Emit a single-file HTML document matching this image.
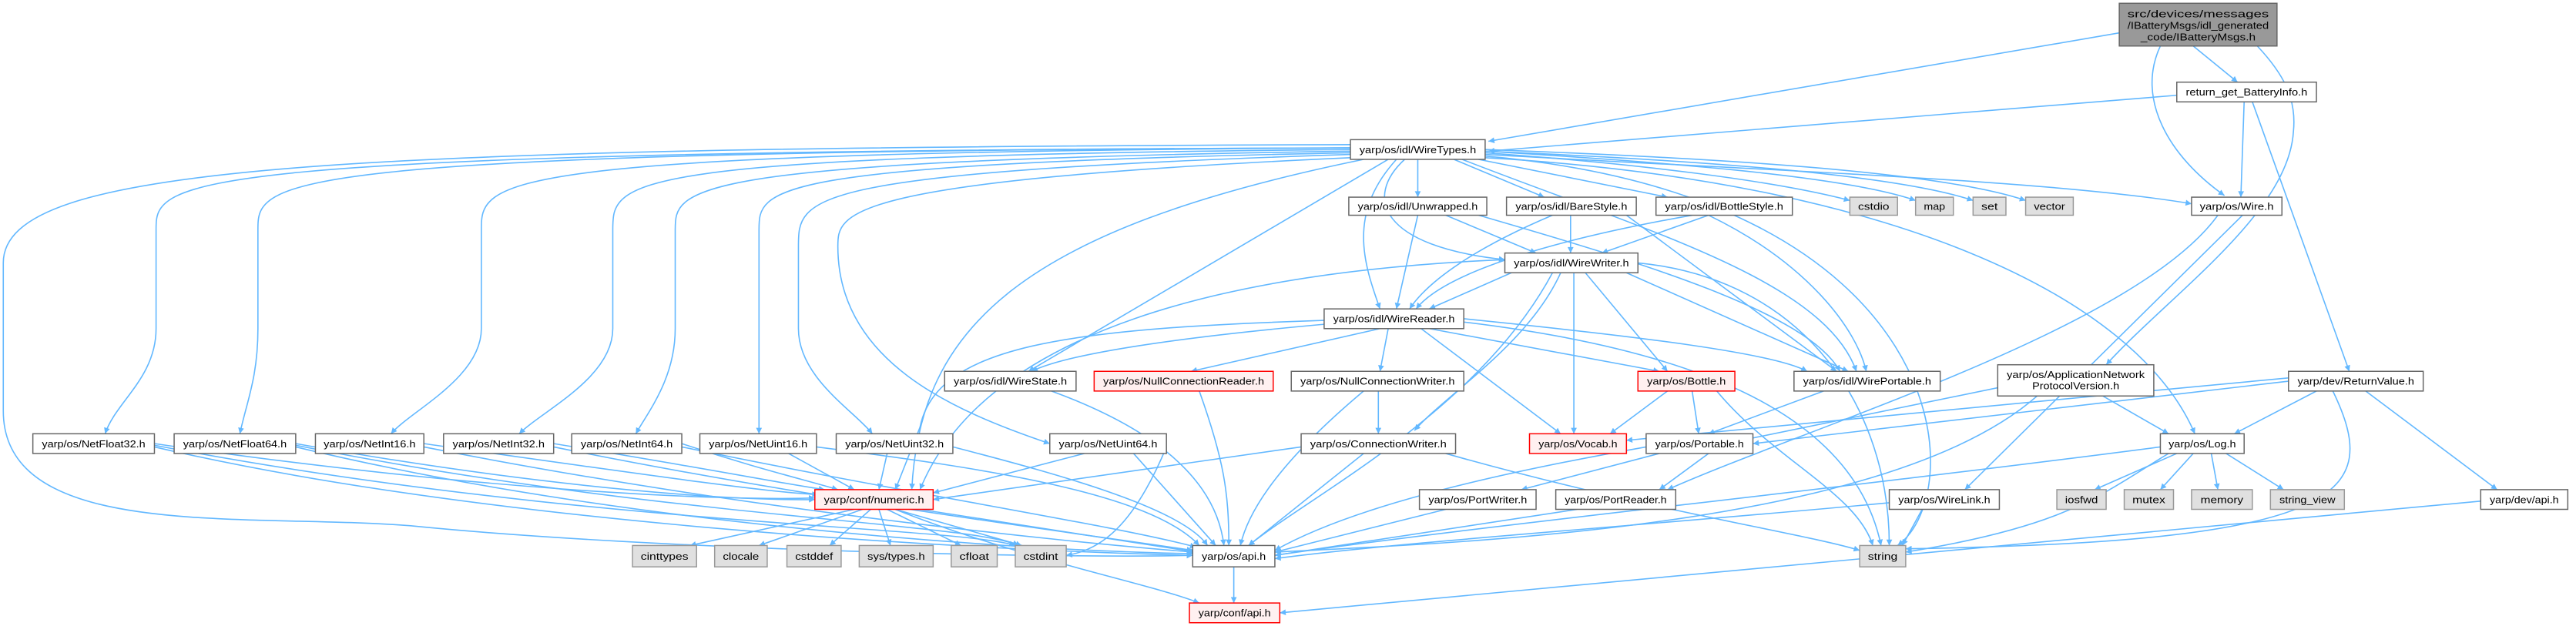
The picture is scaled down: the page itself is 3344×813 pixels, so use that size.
<!DOCTYPE html>
<html><head><meta charset="utf-8"><style>
html,body{margin:0;padding:0;background:#fff;}
svg{display:block;}
text{font-family:"Liberation Sans","DejaVu Sans",sans-serif;font-size:6px;fill:#000;}
.e{fill:none;stroke:#63b8ff;stroke-width:0.75;marker-end:url(#a);}
.n{fill:#fff;stroke:#666;stroke-width:0.7;}
.r{fill:#fff0f0;stroke:#ff0000;stroke-width:0.7;}
.g{fill:#e0e0e0;stroke:#999;stroke-width:0.7;}
.t{fill:#999;stroke:#666;stroke-width:0.7;}
</style></head><body>
<svg width="3344" height="813" viewBox="0 0 1568 381" preserveAspectRatio="none" xmlns="http://www.w3.org/2000/svg">
<defs><marker id="a" viewBox="0 0 10 10" refX="10" refY="5" markerUnits="userSpaceOnUse" markerWidth="4.5" markerHeight="3.6" orient="auto"><path d="M0,0 L10,5 L0,10 z" fill="#63b8ff"/></marker></defs>
<g>
<!-- top node edges -->
<path class="e" d="M1290,20 L906,86"/>
<path class="e" d="M1335,28 L1362,50"/>
<path class="e" d="M1315,28 C1300,60 1320,95 1354,119"/>
<path class="e" d="M1374,28 C1390,45 1398,60 1396,80 C1393,130 1320,180 1282,222"/>
<!-- return_get -->
<path class="e" d="M1325,58 L906,92"/>
<path class="e" d="M1366,62 L1364,120"/>
<path class="e" d="M1371,62 L1430,226"/>
<!-- WireTypes -->
<path class="e" d="M863,97 L863,120"/>
<path class="e" d="M885,97 L940,120"/>
<path class="e" d="M900,97 L1015,120"/>
<path class="e" d="M904,93 C1000,100 1080,110 1126,122"/>
<path class="e" d="M904,92 C1000,98 1120,106 1166,122"/>
<path class="e" d="M904,92 C1020,97 1150,105 1201,122"/>
<path class="e" d="M904,91 C1040,96 1180,104 1233,122"/>
<path class="e" d="M904,94 C1100,105 1250,110 1334,124"/>
<path class="e" d="M855,97 C830,120 840,150 916,158"/>
<path class="e" d="M850,97 C820,130 830,160 840,188"/>
<path class="e" d="M845,97 L626,226"/>
<path class="e" d="M890,97 C1000,140 1110,170 1130,226"/>
<path class="e" d="M904,96 C1150,110 1300,180 1336,264"/>
<path class="e" d="M904,95 C1190,120 1200,300 1155,332"/>
<path class="e" d="M822,88 C200,90 2,100 2,160 L2,250 C2,330 150,312 250,320 C400,335 650,340 726,338"/>
<path class="e" d="M830,97 C620,140 560,200 555,298"/>
<path class="e" d="M822,90 C95,92 95,110 95,140 L95,200 C95,230 70,245 64,264"/>
<path class="e" d="M822,90 C157,92 157,110 157,140 L157,200 C157,230 150,245 146,264"/>
<path class="e" d="M822,90 C293,93 293,110 293,140 L293,200 C293,230 250,250 238,264"/>
<path class="e" d="M822,91 C373,95 373,110 373,140 L373,200 C373,230 330,250 316,264"/>
<path class="e" d="M822,92 C411,98 411,115 411,140 L411,200 C411,230 395,250 387,264"/>
<path class="e" d="M822,93 C462,100 462,115 462,140 L462,264"/>
<path class="e" d="M822,94 C486,105 486,120 486,150 L486,200 C486,230 520,250 531,264"/>
<path class="e" d="M822,96 C510,110 510,130 510,150 C510,220 580,250 639,270"/>
<!-- styles -->
<path class="e" d="M863,131 L850,188"/>
<path class="e" d="M880,131 L935,154"/>
<path class="e" d="M900,131 C1000,160 1100,190 1120,226"/>
<path class="e" d="M945,131 C900,150 870,170 858,188"/>
<path class="e" d="M956,131 L956,154"/>
<path class="e" d="M990,131 L1118,226"/>
<path class="e" d="M1030,131 C950,145 880,165 862,188"/>
<path class="e" d="M1040,131 L975,154"/>
<path class="e" d="M1040,131 C1100,160 1130,200 1136,226"/>
<!-- Wire.h -->
<path class="e" d="M1350,131 C1300,200 1100,260 1015,298"/>
<path class="e" d="M1365,131 L1196,298"/>
<!-- WireWriter -->
<path class="e" d="M920,166 L870,188"/>
<path class="e" d="M916,158 C750,165 600,200 560,298"/>
<path class="e" d="M990,166 L1125,226"/>
<path class="e" d="M965,166 L1015,226"/>
<path class="e" d="M958,166 L958,264"/>
<path class="e" d="M950,166 C930,210 880,240 861,262"/>
<path class="e" d="M945,166 C900,250 800,300 760,332"/>
<path class="e" d="M997,160 C1100,170 1150,250 1150,332"/>
<!-- WireReader -->
<path class="e" d="M810,197 C720,205 650,215 628,226"/>
<path class="e" d="M840,200 L725,226"/>
<path class="e" d="M845,200 L840,226"/>
<path class="e" d="M865,200 L950,264"/>
<path class="e" d="M870,200 L1010,226"/>
<path class="e" d="M891,194 C1000,205 1080,215 1100,226"/>
<path class="e" d="M806,195 C650,200 570,210 560,260 L545,298"/>
<path class="e" d="M891,196 C1050,215 1130,260 1145,332"/>
<!-- row 226 -->
<path class="e" d="M640,238 C700,260 740,290 745,332"/>
<path class="e" d="M730,238 C745,280 748,300 748,332"/>
<path class="e" d="M839,238 L839,264"/>
<path class="e" d="M830,238 C780,280 760,310 755,332"/>
<path class="e" d="M1015,238 L980,264"/>
<path class="e" d="M1030,238 L1034,264"/>
<path class="e" d="M1045,238 C1080,280 1130,300 1140,332"/>
<path class="e" d="M1110,238 L1040,264"/>
<path class="e" d="M1216,236 L1060,268"/>
<path class="e" d="M1240,241 C1150,320 900,330 776,336"/>
<path class="e" d="M1280,241 L1320,264"/>
<path class="e" d="M1393,232 L1067,270"/>
<path class="e" d="M1393,230 L990,268"/>
<path class="e" d="M1410,238 L1360,264"/>
<path class="e" d="M1420,238 C1450,300 1430,330 1160,334"/>
<path class="e" d="M1440,238 L1520,298"/>
<!-- row 264 -->
<path class="e" d="M792,272 L568,304"/>
<path class="e" d="M830,276 L760,332"/>
<path class="e" d="M880,276 C1000,310 1100,325 1132,335"/>
<path class="e" d="M1010,276 L926,298"/>
<path class="e" d="M1040,276 L1010,298"/>
<path class="e" d="M1002,272 C900,290 820,310 776,335"/>
<path class="e" d="M1315,272 C1100,300 900,320 776,338"/>
<path class="e" d="M1325,276 L1275,298"/>
<path class="e" d="M1335,276 L1315,298"/>
<path class="e" d="M1346,276 L1350,298"/>
<path class="e" d="M1355,276 L1390,298"/>
<path class="e" d="M1320,276 C1280,300 1260,320 1160,336"/>
<!-- row 298 -->
<path class="e" d="M1150,306 C1000,320 850,330 776,340"/>
<path class="e" d="M1170,310 L1158,332"/>
<path class="e" d="M880,310 L776,336"/>
<path class="e" d="M960,310 L776,338"/>
<path class="e" d="M1510,305 L779,373"/>
<path class="e" d="M520,310 L420,332"/>
<path class="e" d="M525,310 L462,332"/>
<path class="e" d="M530,310 L505,332"/>
<path class="e" d="M535,310 L542,332"/>
<path class="e" d="M540,310 L585,332"/>
<path class="e" d="M545,310 L622,332"/>
<path class="e" d="M560,310 L728,336"/>
<path class="e" d="M545,310 C620,340 700,355 730,367"/>
<path class="e" d="M751,345 L751,367"/>
<path class="e" d="M710,272 C690,320 670,335 649,338"/>
<!-- Net nodes -->
<path class="e" d="M94,270 C300,300 450,305 496,303"/>
<path class="e" d="M94,272 C300,320 600,335 726,338"/>
<path class="e" d="M94,271 C350,320 580,320 618,332"/>
<path class="e" d="M180,270 C350,300 460,305 496,304"/>
<path class="e" d="M180,272 C380,320 620,335 726,337"/>
<path class="e" d="M180,271 C400,315 590,318 620,332"/>
<path class="e" d="M258,270 C400,290 470,300 498,301"/>
<path class="e" d="M258,272 C450,310 650,330 726,336"/>
<path class="e" d="M337,270 C430,285 480,295 502,298"/>
<path class="e" d="M337,272 C500,305 660,325 726,335"/>
<path class="e" d="M415,270 C460,285 490,292 510,298"/>
<path class="e" d="M415,272 C550,300 680,320 728,333"/>
<path class="e" d="M497,272 C600,285 700,300 730,332"/>
<path class="e" d="M480,276 L520,298"/>
<path class="e" d="M540,276 L535,298"/>
<path class="e" d="M580,272 C650,290 720,310 735,332"/>
<path class="e" d="M660,276 L568,300"/>
<path class="e" d="M690,276 L740,332"/>
</g>
<g>
<rect class="t" x="1290" y="2" width="96" height="26"/>
<text x="1338" y="10.5" text-anchor="middle" textLength="86" lengthAdjust="spacingAndGlyphs">src/devices/messages</text>
<text x="1338" y="17.5" text-anchor="middle" textLength="86" lengthAdjust="spacingAndGlyphs">/IBatteryMsgs/idl_generated</text>
<text x="1338" y="24.5" text-anchor="middle" textLength="70" lengthAdjust="spacingAndGlyphs">_code/IBatteryMsgs.h</text>

<rect class="n" x="1325" y="50" width="85" height="12"/><text x="1367.5" y="58.2" text-anchor="middle" textLength="74" lengthAdjust="spacingAndGlyphs">return_get_BatteryInfo.h</text>
<rect class="n" x="822" y="85" width="82" height="12"/><text x="863" y="93.2" text-anchor="middle" textLength="71" lengthAdjust="spacingAndGlyphs">yarp/os/idl/WireTypes.h</text>

<rect class="n" x="821" y="120" width="84" height="11"/><text x="863" y="127.8" text-anchor="middle" textLength="73" lengthAdjust="spacingAndGlyphs">yarp/os/idl/Unwrapped.h</text>
<rect class="n" x="917" y="120" width="79" height="11"/><text x="956.5" y="127.8" text-anchor="middle" textLength="68" lengthAdjust="spacingAndGlyphs">yarp/os/idl/BareStyle.h</text>
<rect class="n" x="1008" y="120" width="83" height="11"/><text x="1049.5" y="127.8" text-anchor="middle" textLength="72" lengthAdjust="spacingAndGlyphs">yarp/os/idl/BottleStyle.h</text>
<rect class="g" x="1126" y="120" width="29" height="11"/><text x="1140.5" y="127.8" text-anchor="middle" textLength="19" lengthAdjust="spacingAndGlyphs">cstdio</text>
<rect class="g" x="1166" y="120" width="23" height="11"/><text x="1177.5" y="127.8" text-anchor="middle" textLength="13" lengthAdjust="spacingAndGlyphs">map</text>
<rect class="g" x="1201" y="120" width="20" height="11"/><text x="1211" y="127.8" text-anchor="middle" textLength="10" lengthAdjust="spacingAndGlyphs">set</text>
<rect class="g" x="1233" y="120" width="29" height="11"/><text x="1247.5" y="127.8" text-anchor="middle" textLength="19" lengthAdjust="spacingAndGlyphs">vector</text>
<rect class="n" x="1334" y="120" width="55" height="11"/><text x="1361.5" y="127.8" text-anchor="middle" textLength="45" lengthAdjust="spacingAndGlyphs">yarp/os/Wire.h</text>

<rect class="n" x="916" y="154" width="81" height="12"/><text x="956.5" y="162.2" text-anchor="middle" textLength="70" lengthAdjust="spacingAndGlyphs">yarp/os/idl/WireWriter.h</text>
<rect class="n" x="806" y="188" width="85" height="12"/><text x="848.5" y="196.2" text-anchor="middle" textLength="74" lengthAdjust="spacingAndGlyphs">yarp/os/idl/WireReader.h</text>

<rect class="n" x="575" y="226" width="80" height="12"/><text x="615" y="234.2" text-anchor="middle" textLength="69" lengthAdjust="spacingAndGlyphs">yarp/os/idl/WireState.h</text>
<rect class="r" x="666" y="226" width="109" height="12"/><text x="720.5" y="234.2" text-anchor="middle" textLength="98" lengthAdjust="spacingAndGlyphs">yarp/os/NullConnectionReader.h</text>
<rect class="n" x="786" y="226" width="105" height="12"/><text x="838.5" y="234.2" text-anchor="middle" textLength="94" lengthAdjust="spacingAndGlyphs">yarp/os/NullConnectionWriter.h</text>
<rect class="r" x="997" y="226" width="59" height="12"/><text x="1026.5" y="234.2" text-anchor="middle" textLength="48" lengthAdjust="spacingAndGlyphs">yarp/os/Bottle.h</text>
<rect class="n" x="1092" y="226" width="89" height="12"/><text x="1136.5" y="234.2" text-anchor="middle" textLength="78" lengthAdjust="spacingAndGlyphs">yarp/os/idl/WirePortable.h</text>
<rect class="n" x="1216" y="222" width="95" height="19"/><text x="1263.5" y="230" text-anchor="middle" textLength="84" lengthAdjust="spacingAndGlyphs">yarp/os/ApplicationNetwork</text><text x="1263.5" y="237" text-anchor="middle" textLength="53" lengthAdjust="spacingAndGlyphs">ProtocolVersion.h</text>
<rect class="n" x="1393" y="226" width="82" height="12"/><text x="1434" y="234.2" text-anchor="middle" textLength="71" lengthAdjust="spacingAndGlyphs">yarp/dev/ReturnValue.h</text>

<rect class="n" x="20" y="264" width="74" height="12"/><text x="57" y="272.2" text-anchor="middle" textLength="63" lengthAdjust="spacingAndGlyphs">yarp/os/NetFloat32.h</text>
<rect class="n" x="106" y="264" width="74" height="12"/><text x="143" y="272.2" text-anchor="middle" textLength="63" lengthAdjust="spacingAndGlyphs">yarp/os/NetFloat64.h</text>
<rect class="n" x="192" y="264" width="66" height="12"/><text x="225" y="272.2" text-anchor="middle" textLength="56" lengthAdjust="spacingAndGlyphs">yarp/os/NetInt16.h</text>
<rect class="n" x="270" y="264" width="67" height="12"/><text x="303.5" y="272.2" text-anchor="middle" textLength="56" lengthAdjust="spacingAndGlyphs">yarp/os/NetInt32.h</text>
<rect class="n" x="348" y="264" width="67" height="12"/><text x="381.5" y="272.2" text-anchor="middle" textLength="56" lengthAdjust="spacingAndGlyphs">yarp/os/NetInt64.h</text>
<rect class="n" x="426" y="264" width="71" height="12"/><text x="461.5" y="272.2" text-anchor="middle" textLength="60" lengthAdjust="spacingAndGlyphs">yarp/os/NetUint16.h</text>
<rect class="n" x="509" y="264" width="71" height="12"/><text x="544.5" y="272.2" text-anchor="middle" textLength="60" lengthAdjust="spacingAndGlyphs">yarp/os/NetUint32.h</text>
<rect class="n" x="639" y="264" width="71" height="12"/><text x="674.5" y="272.2" text-anchor="middle" textLength="60" lengthAdjust="spacingAndGlyphs">yarp/os/NetUint64.h</text>
<rect class="n" x="792" y="264" width="94" height="12"/><text x="839" y="272.2" text-anchor="middle" textLength="83" lengthAdjust="spacingAndGlyphs">yarp/os/ConnectionWriter.h</text>
<rect class="r" x="931" y="264" width="59" height="12"/><text x="960.5" y="272.2" text-anchor="middle" textLength="48" lengthAdjust="spacingAndGlyphs">yarp/os/Vocab.h</text>
<rect class="n" x="1002" y="264" width="65" height="12"/><text x="1034.5" y="272.2" text-anchor="middle" textLength="54" lengthAdjust="spacingAndGlyphs">yarp/os/Portable.h</text>
<rect class="n" x="1315" y="264" width="51" height="12"/><text x="1340.5" y="272.2" text-anchor="middle" textLength="41" lengthAdjust="spacingAndGlyphs">yarp/os/Log.h</text>

<rect class="r" x="496" y="298" width="72" height="12"/><text x="532" y="306.2" text-anchor="middle" textLength="61" lengthAdjust="spacingAndGlyphs">yarp/conf/numeric.h</text>
<rect class="n" x="864" y="298" width="71" height="12"/><text x="899.5" y="306.2" text-anchor="middle" textLength="60" lengthAdjust="spacingAndGlyphs">yarp/os/PortWriter.h</text>
<rect class="n" x="947" y="298" width="73" height="12"/><text x="983.5" y="306.2" text-anchor="middle" textLength="62" lengthAdjust="spacingAndGlyphs">yarp/os/PortReader.h</text>
<rect class="n" x="1150" y="298" width="67" height="12"/><text x="1183.5" y="306.2" text-anchor="middle" textLength="56" lengthAdjust="spacingAndGlyphs">yarp/os/WireLink.h</text>
<rect class="g" x="1252" y="298" width="30" height="12"/><text x="1267" y="306.2" text-anchor="middle" textLength="20" lengthAdjust="spacingAndGlyphs">iosfwd</text>
<rect class="g" x="1293" y="298" width="30" height="12"/><text x="1308" y="306.2" text-anchor="middle" textLength="20" lengthAdjust="spacingAndGlyphs">mutex</text>
<rect class="g" x="1334" y="298" width="37" height="12"/><text x="1352.5" y="306.2" text-anchor="middle" textLength="26" lengthAdjust="spacingAndGlyphs">memory</text>
<rect class="g" x="1382" y="298" width="45" height="12"/><text x="1404.5" y="306.2" text-anchor="middle" textLength="34" lengthAdjust="spacingAndGlyphs">string_view</text>
<rect class="n" x="1510" y="298" width="53" height="12"/><text x="1536.5" y="306.2" text-anchor="middle" textLength="42" lengthAdjust="spacingAndGlyphs">yarp/dev/api.h</text>

<rect class="g" x="385" y="332" width="39" height="13"/><text x="404.5" y="340.7" text-anchor="middle" textLength="29" lengthAdjust="spacingAndGlyphs">cinttypes</text>
<rect class="g" x="435" y="332" width="32" height="13"/><text x="451" y="340.7" text-anchor="middle" textLength="22" lengthAdjust="spacingAndGlyphs">clocale</text>
<rect class="g" x="479" y="332" width="33" height="13"/><text x="495.5" y="340.7" text-anchor="middle" textLength="23" lengthAdjust="spacingAndGlyphs">cstddef</text>
<rect class="g" x="523" y="332" width="45" height="13"/><text x="545.5" y="340.7" text-anchor="middle" textLength="35" lengthAdjust="spacingAndGlyphs">sys/types.h</text>
<rect class="g" x="579" y="332" width="28" height="13"/><text x="593" y="340.7" text-anchor="middle" textLength="18" lengthAdjust="spacingAndGlyphs">cfloat</text>
<rect class="g" x="618" y="332" width="31" height="13"/><text x="633.5" y="340.7" text-anchor="middle" textLength="21" lengthAdjust="spacingAndGlyphs">cstdint</text>
<rect class="n" x="726" y="332" width="50" height="13"/><text x="751" y="340.7" text-anchor="middle" textLength="39" lengthAdjust="spacingAndGlyphs">yarp/os/api.h</text>
<rect class="g" x="1132" y="332" width="28" height="13"/><text x="1146" y="340.7" text-anchor="middle" textLength="18" lengthAdjust="spacingAndGlyphs">string</text>
<rect class="r" x="724" y="367" width="55" height="12"/><text x="751.5" y="375.2" text-anchor="middle" textLength="44" lengthAdjust="spacingAndGlyphs">yarp/conf/api.h</text>
</g>
</svg>
</body></html>
